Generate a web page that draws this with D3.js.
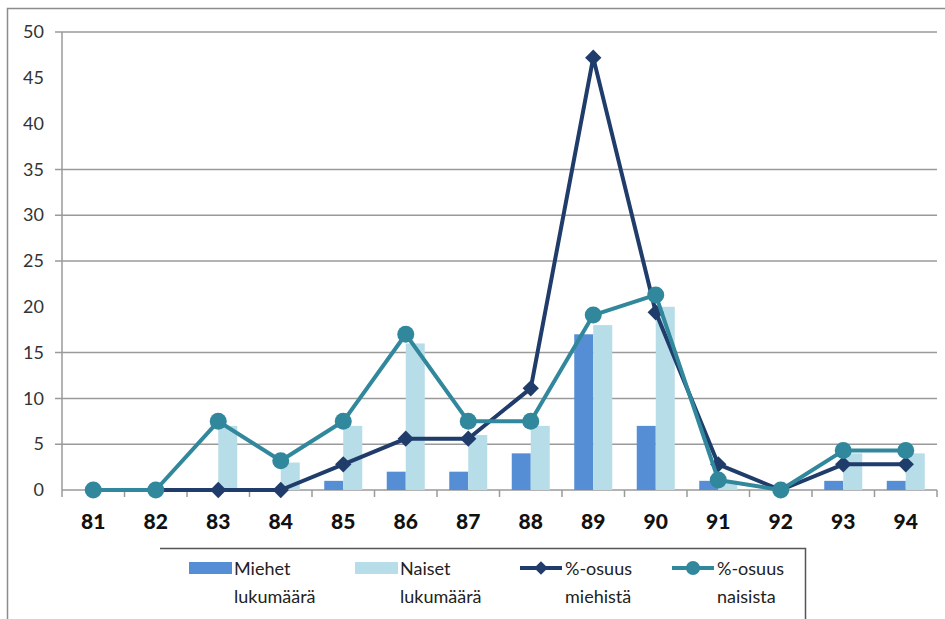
<!DOCTYPE html>
<html>
<head>
<meta charset="utf-8">
<script src="https://cdn.jsdelivr.net/npm/d3@7"></script>
<style>
  body { margin: 0; background: #fff; }
  svg { display: block; font-family: Lato, "Open Sans", sans-serif; }
</style>
</head>
<body>
<svg width="945" height="619"></svg>
<script>
window.onload = function() {

var categories = ["81", "82", "83", "84", "85", "86", "87", "88", "89", "90", "91", "92", "93", "94"];
var miehet = [0, 0, 0, 0, 1, 2, 2, 4, 17, 7, 1, 0, 1, 1];
var naiset = [0, 0, 7, 3, 7, 16, 6, 7, 18, 20, 1, 0, 4, 4];
var miehetPct = [0, 0, 0, 0, 2.8, 5.6, 5.6, 11.1, 47.2, 19.4, 2.8, 0, 2.8, 2.8];
var naisetPct = [0, 0, 7.5, 3.2, 7.5, 17, 7.5, 7.5, 19.1, 21.3, 1.1, 0, 4.3, 4.3];
var yTicks = [0, 5, 10, 15, 20, 25, 30, 35, 40, 45, 50];
// some gridlines are missing in the original scan
var gridValues = [5, 10, 15, 25, 30, 35, 50];
var legendLabels = [["Miehet", "lukumäärä"], ["Naiset", "lukumäärä"], ["%-osuus", "miehistä"], ["%-osuus", "naisista"]];

var colMiehet = "#558ed5";
var colNaiset = "#b7dde8";
var colMiehetPct = "#1f3c6b";
var colNaisetPct = "#31879c";

var svg = d3.select("svg");
var left = 62, right = 937, top = 32, bottom = 490;

var x = d3.scaleBand().domain(categories).range([left, right]);
var y = d3.scaleLinear().domain([0, 50]).range([bottom, top]);

// outer frame (only top and left edges visible)
svg.append("path")
    .attr("d", "M7.5,619 V8.5 H945")
    .attr("fill", "none")
    .attr("stroke", "#8c8c8c")
    .attr("stroke-width", 1.5);

// gridlines
svg.append("g").selectAll("line")
    .data(gridValues)
    .enter().append("line")
    .attr("x1", left - 7).attr("x2", right)
    .attr("y1", function(d) { return y(d); })
    .attr("y2", function(d) { return y(d); })
    .attr("stroke", "#9a9a9a")
    .attr("stroke-width", 1.5);

// y axis
var yAxis = svg.append("g")
    .attr("transform", "translate(" + left + ",0)")
    .call(d3.axisLeft(y).tickValues(yTicks).tickSize(0).tickPadding(18));
yAxis.select(".domain").attr("stroke", "#9a9a9a").attr("stroke-width", 1.5)
    .attr("d", "M0," + top + "V" + (bottom + 7));
yAxis.selectAll("text").attr("font-size", 18).attr("fill", "#333")
    .attr("font-family", "Lato, sans-serif");

// x axis baseline and tick marks between categories
svg.append("line")
    .attr("x1", left).attr("x2", right)
    .attr("y1", bottom).attr("y2", bottom)
    .attr("stroke", "#9a9a9a").attr("stroke-width", 1.5);
svg.append("g").selectAll("line")
    .data(categories)
    .enter().append("line")
    .attr("x1", function(d) { return x(d) + x.bandwidth(); })
    .attr("x2", function(d) { return x(d) + x.bandwidth(); })
    .attr("y1", bottom).attr("y2", bottom + 7)
    .attr("stroke", "#9a9a9a").attr("stroke-width", 1.5);

var xAxis = svg.append("g")
    .attr("transform", "translate(0," + bottom + ")")
    .call(d3.axisBottom(x).tickSize(0).tickPadding(24));
xAxis.select(".domain").remove();
xAxis.selectAll("text").attr("font-size", 21).attr("font-weight", "900")
    .attr("fill", "#111").attr("font-family", "Lato, sans-serif");

// bars
var barW = 19;
svg.append("g").selectAll("rect")
    .data(miehet)
    .enter().append("rect")
    .attr("x", function(d, i) { return x(categories[i]) + x.bandwidth() / 2 - barW; })
    .attr("y", function(d) { return y(d); })
    .attr("width", barW)
    .attr("height", function(d) { return bottom - y(d); })
    .attr("fill", colMiehet);
svg.append("g").selectAll("rect")
    .data(naiset)
    .enter().append("rect")
    .attr("x", function(d, i) { return x(categories[i]) + x.bandwidth() / 2; })
    .attr("y", function(d) { return y(d); })
    .attr("width", barW)
    .attr("height", function(d) { return bottom - y(d); })
    .attr("fill", colNaiset);

var line = d3.line()
    .x(function(d, i) { return x(categories[i]) + x.bandwidth() / 2; })
    .y(function(d) { return y(d); });

// miehet %
svg.append("path")
    .datum(miehetPct)
    .attr("fill", "none")
    .attr("stroke", colMiehetPct)
    .attr("stroke-width", 4)
    .attr("stroke-linejoin", "round")
    .attr("d", line);
svg.append("g").selectAll("path")
    .data(miehetPct)
    .enter().append("path")
    .attr("d", d3.symbol().type(d3.symbolDiamond2).size(170))
    .attr("transform", function(d, i) {
        return "translate(" + (x(categories[i]) + x.bandwidth() / 2) + "," + y(d) + ")";
    })
    .attr("fill", colMiehetPct);

// naiset %
svg.append("path")
    .datum(naisetPct)
    .attr("fill", "none")
    .attr("stroke", colNaisetPct)
    .attr("stroke-width", 4)
    .attr("stroke-linejoin", "round")
    .attr("d", line);
svg.append("g").selectAll("circle")
    .data(naisetPct)
    .enter().append("circle")
    .attr("cx", function(d, i) { return x(categories[i]) + x.bandwidth() / 2; })
    .attr("cy", function(d) { return y(d); })
    .attr("r", 8.5)
    .attr("fill", colNaisetPct);

// legend
var legend = svg.append("g");
legend.append("path")
    .attr("d", "M160,548.5 H805.5 V619")
    .attr("fill", "none")
    .attr("stroke", "#555")
    .attr("stroke-width", 1.5);

var legendX = [189, 355, 520, 672];
var legendItems = legend.selectAll("g")
    .data(legendLabels)
    .enter().append("g")
    .attr("transform", function(d, i) { return "translate(" + legendX[i] + ",568)"; });

legendItems.each(function(d, i) {
    var g = d3.select(this);
    if (i < 2) {
        g.append("rect").attr("x", 0).attr("y", -6).attr("width", 43).attr("height", 12)
            .attr("fill", i === 0 ? colMiehet : colNaiset);
    } else {
        var c = i === 2 ? colMiehetPct : colNaisetPct;
        g.append("line").attr("x1", 0).attr("x2", 42).attr("y1", 0).attr("y2", 0)
            .attr("stroke", c).attr("stroke-width", 4);
        if (i === 2) {
            g.append("path").attr("d", d3.symbol().type(d3.symbolDiamond2).size(120))
                .attr("transform", "translate(21,0)").attr("fill", c);
        } else {
            g.append("circle").attr("cx", 21).attr("cy", 0).attr("r", 7).attr("fill", c);
        }
    }
    g.append("text")
        .attr("x", 45).attr("y", 7)
        .attr("font-size", 18).attr("fill", "#222")
        .text(d[0]);
    g.append("text")
        .attr("x", 45).attr("y", 35)
        .attr("font-size", 18).attr("fill", "#222")
        .text(d[1]);
});

}
</script>
</body>
</html>
